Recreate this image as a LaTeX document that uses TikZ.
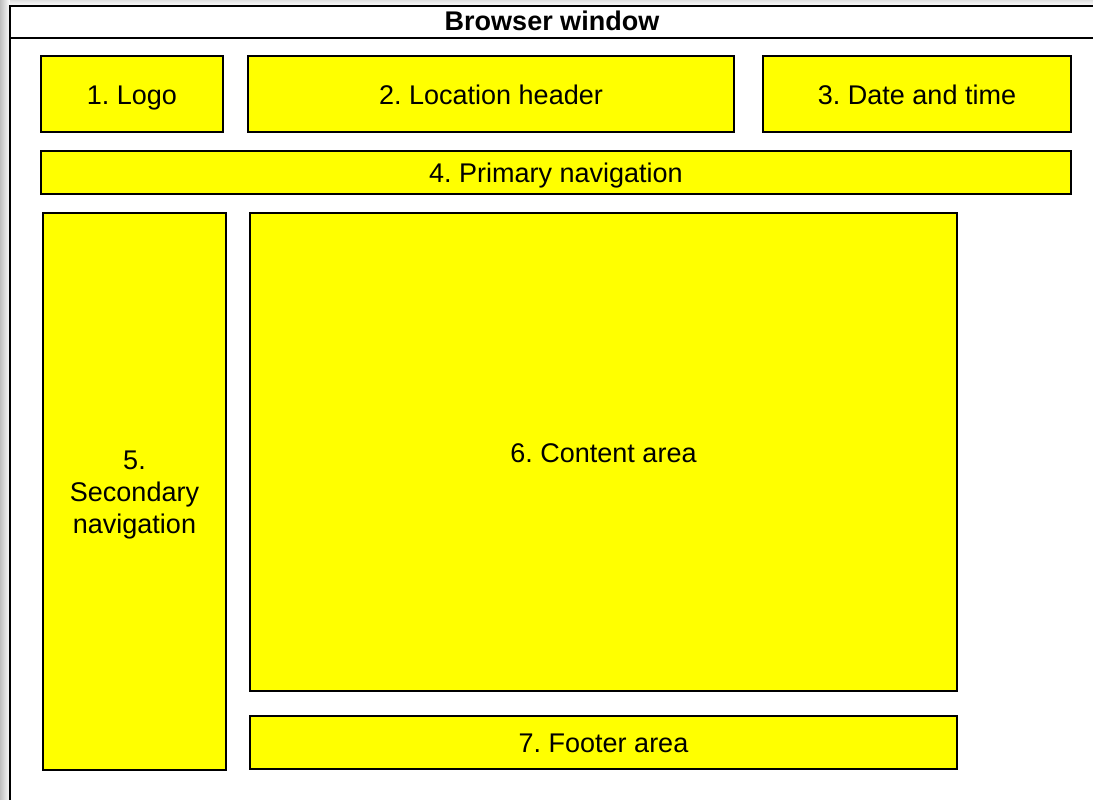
\documentclass[tikz,border=0pt]{standalone}
\usepackage{fontspec}
\setmainfont{Liberation Sans}
\definecolor{regionfill}{RGB}{255,255,0}
% line strut that keeps every label's baseline at the same place
\newcommand\regstrut{\rule[-5.5pt]{0pt}{31.5pt}}
\begin{document}
\frenchspacing
\begin{tikzpicture}[x=1pt,y=-1pt,
  labeltext/.style={font=\fontsize{27}{31.5}\selectfont,align=center,inner sep=0pt},
  region/.style={draw=black,line width=2pt,fill=regionfill,inner sep=0pt,
    labeltext,execute at begin node=\regstrut},
  frame/.style={draw=black,line width=2pt}]
\useasboundingbox (0,0) rectangle (1093,800);
\clip (0,0) rectangle (1093,800);
% soft shadow along the left and top of the window
\shade[left color=black!25,right color=white] (0,0) rectangle (10,800);
\shade[top color=black!12,bottom color=white] (10,0) rectangle (1093,6);
% window frame and title bar
\draw[frame,fill=white] (10,6) rectangle (1110,820);
\draw[frame] (10,38) -- (1110,38);
\node[font=\bfseries\fontsize{27}{31}\selectfont] (title) at (552,21) {Browser window};
% page regions
\node[region,minimum width=182pt,minimum height=76pt] (logo) at (132,94) {1. Logo};
\node[region,minimum width=486pt,minimum height=76pt] (loc) at (491,94) {2. Location header};
\node[region,minimum width=308pt,minimum height=76pt] (date) at (917,94) {3. Date and time};
\node[region,minimum width=1030pt,minimum height=43pt] (prim) at (556,172.5) {4. Primary navigation};
\node[region,minimum width=183pt,minimum height=557pt,
  label={[labeltext]center:\regstrut 5.\\\regstrut Secondary\\\regstrut navigation}] (sec) at (134.5,491.5) {};
\node[region,minimum width=707pt,minimum height=478pt] (content) at (603.5,452) {6. Content area};
\node[region,minimum width=707pt,minimum height=53pt] (footer) at (603.5,742.5) {7. Footer area};
\end{tikzpicture}
\end{document}
